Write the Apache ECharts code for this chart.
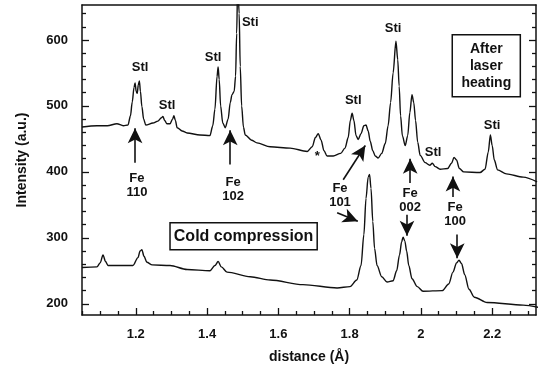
<!DOCTYPE html>
<html>
<head>
<meta charset="utf-8">
<script src="https://cdn.jsdelivr.net/npm/echarts@6/dist/echarts.min.js"></script>
<style>
html,body{margin:0;padding:0;background:#fff;}
#chart{width:541px;height:372px;}
</style>
</head>
<body>
<div id="chart"></div>
<script>
// upper pattern: after laser heating  [d (A), intensity]
var upperTrace = [
  [1.049,468],[1.091,470],[1.120,470],[1.147,473],[1.165,470],[1.178,471],[1.185,485],[1.190,506],
  [1.195,528],[1.198,535],[1.201,522],[1.204,519],[1.207,532],[1.210,538],[1.213,522],[1.217,499],
  [1.222,480],[1.228,471],[1.248,474],[1.262,477],[1.272,482],[1.276,484],[1.281,478],[1.287,473],
  [1.296,473],[1.303,480],[1.307,485],[1.311,478],[1.316,467],[1.330,462],[1.344,459],[1.380,456],
  [1.408,455],[1.416,470],[1.422,495],[1.428,545],[1.431,559],[1.434,540],[1.438,500],[1.444,474],
  [1.451,467],[1.459,480],[1.465,505],[1.470,517],[1.476,522],[1.480,545],[1.483,610],[1.486,690],
  [1.490,640],[1.493,560],[1.497,500],[1.502,468],[1.507,456],[1.525,448],[1.540,444],[1.577,438],
  [1.633,436],[1.681,431],[1.695,438],[1.704,452],[1.712,458],[1.720,448],[1.728,432],[1.737,424],
  [1.754,424],[1.775,428],[1.787,436],[1.796,452],[1.802,478],[1.807,489],[1.812,478],[1.818,455],
  [1.824,449],[1.832,458],[1.840,470],[1.846,471],[1.852,462],[1.858,446],[1.865,432],[1.872,424],
  [1.880,421],[1.890,428],[1.900,443],[1.908,470],[1.915,505],[1.922,550],[1.930,598],[1.935,570],
  [1.939,530],[1.943,485],[1.948,455],[1.956,440],[1.963,455],[1.969,490],[1.975,517],[1.980,505],
  [1.985,478],[1.991,445],[1.998,425],[2.012,414],[2.025,410],[2.032,413],[2.040,408],[2.054,404],
  [2.075,405],[2.086,413],[2.093,422],[2.100,418],[2.108,405],[2.120,400],[2.166,399],[2.180,404],
  [2.189,430],[2.195,456],[2.200,440],[2.206,418],[2.215,403],[2.240,397],[2.287,392],[2.326,385]
];
// lower pattern: cold compression
var lowerTrace = [
  [1.049,255],[1.091,256],[1.100,262],[1.108,274],[1.115,264],[1.122,258],[1.192,258],[1.206,270],
  [1.212,280],[1.217,282],[1.223,272],[1.231,263],[1.246,259],[1.296,258],[1.344,252],[1.408,250],
  [1.422,258],[1.431,264],[1.440,256],[1.456,248],[1.521,241],[1.577,236],[1.669,229],[1.765,224],
  [1.801,226],[1.820,236],[1.832,258],[1.840,305],[1.846,360],[1.852,392],[1.856,396],[1.860,375],
  [1.865,325],[1.870,284],[1.877,258],[1.890,241],[1.905,233],[1.922,235],[1.932,250],[1.940,274],
  [1.946,294],[1.950,301],[1.955,295],[1.960,280],[1.966,258],[1.975,238],[1.990,226],[2.006,219],
  [2.060,220],[2.078,230],[2.090,248],[2.100,262],[2.107,266],[2.114,261],[2.123,244],[2.135,222],
  [2.150,210],[2.186,202],[2.287,198],[2.335,194]
];

var xTicks = [1.2,1.4,1.6,1.8,2,2.2];
var xMinorTicks = [1.05,1.1,1.15,1.25,1.3,1.35,1.45,1.5,1.55,1.65,1.7,1.75,1.85,1.9,1.95,2.05,2.1,2.15,2.25,2.3];
var yTicks = [200,300,400,500,600];
var yMinorTicks = [220,240,260,280,320,340,360,380,420,440,460,480,520,540,560,580,620,640];

// peak labels [d, intensity, text]
var peakLabels = [
  [1.212,559,'Stl'],[1.288,500,'Stl'],[1.417,574,'Stl'],[1.521,626,'Sti'],
  [1.810,509,'Stl'],[1.922,618,'Sti'],[2.034,429,'Stl'],[2.200,471,'Sti'],[1.709,424,'*'],
  [1.203,380,'Fe\n110'],[1.473,373,'Fe\n102'],[1.773,364,'Fe\n101'],[1.970,357,'Fe\n002'],[2.096,336,'Fe\n100']
];
// arrows [from d, from I, to d, to I]
var arrows = [
  [1.198,414,1.198,466],[1.465,411,1.465,463],[1.782,388,1.844,440],[1.765,338,1.823,325],
  [1.970,383,1.970,420],[1.961,335,1.961,303],[2.090,362,2.090,393],[2.102,305,2.102,269]
];

var fontFam = 'Liberation Sans, Arial, sans-serif';
var xMin = 1.049, xMax = 2.323, yMin = 183, yMax = 653;

function xAx(pos, ticks, len, showLabel, showLine) {
  return {
    type:'value', position:pos, min:xMin, max:xMax,
    axisLine:{show:showLine, onZero:false, lineStyle:{color:'#111', width:1.5}},
    axisTick:{show:ticks.length>0, inside:true, length:len, customValues:ticks, lineStyle:{color:'#111', width:1.3}},
    axisLabel:{show:showLabel, customValues:xTicks, margin:13, color:'#111', fontSize:13, fontWeight:'bold', fontFamily:fontFam},
    splitLine:{show:false}
  };
}
function yAx(pos, ticks, len, showLabel, showLine) {
  return {
    type:'value', position:pos, min:yMin, max:yMax,
    axisLine:{show:showLine, onZero:false, lineStyle:{color:'#111', width:1.5}},
    axisTick:{show:true, inside:true, length:len, customValues:ticks, lineStyle:{color:'#111', width:1.3}},
    axisLabel:{show:showLabel, customValues:yTicks, margin:14, color:'#111', fontSize:13, fontWeight:'bold', fontFamily:fontFam},
    splitLine:{show:false}
  };
}

var xAxes = [xAx('bottom', xTicks, 7, true, true), xAx('bottom', xMinorTicks, 4, false, false), xAx('top', [], 0, false, true)];
xAxes[0].name = 'distance (Å)';
xAxes[0].nameLocation = 'middle';
xAxes[0].nameGap = 35;
xAxes[0].nameTextStyle = {color:'#111', fontSize:14, fontWeight:'bold', fontFamily:fontFam};
var yAxes = [yAx('left', yTicks, 7, true, true), yAx('left', yMinorTicks, 4, false, false),
             yAx('right', yTicks, 7, false, true), yAx('right', yMinorTicks, 4, false, false)];
yAxes[0].name = 'Intensity (a.u.)';
yAxes[0].nameLocation = 'middle';
yAxes[0].nameGap = 53;
yAxes[0].nameTextStyle = {color:'#111', fontSize:14, fontWeight:'bold', fontFamily:fontFam};

var labelData = peakLabels.map(function(p){
  return {coord:[p[0], p[1]], name:p[2]};
});
var arrowData = arrows.map(function(a){
  return [{coord:[a[0], a[1]]}, {coord:[a[2], a[3]]}];
});

var chart = echarts.init(document.getElementById('chart'));
var option = {
  animation:false,
  grid:{left:82, right:5, top:5, bottom:57},
  xAxis:xAxes,
  yAxis:yAxes,
  series:[{
    name:'After laser heating', type:'line', data:upperTrace, showSymbol:false,
    smooth:0.3, smoothMonotone:'x', clip:true,
    lineStyle:{color:'#111', width:1.4},
    markPoint:{
      symbol:'rect', symbolSize:1, silent:true, itemStyle:{color:'rgba(0,0,0,0)'},
      label:{show:true, position:'inside', formatter:'{b}', color:'#111', fontSize:13, fontWeight:'bold', lineHeight:14, fontFamily:fontFam},
      data:labelData
    },
    markLine:{
      silent:true, symbol:['none','arrow'], symbolSize:[11,15], label:{show:false},
      lineStyle:{color:'#111', width:1.6, type:'solid'},
      data:arrowData
    },
    markArea:{
      silent:true,
      itemStyle:{color:'#fff', borderColor:'#111', borderWidth:1.5},
      label:{show:true, position:'inside', color:'#111', fontSize:14, fontWeight:'bold', lineHeight:17, fontFamily:fontFam},
      data:[[{coord:[2.088,608], name:'After\nlaser\nheating'}, {coord:[2.279,514]}]]
    }
  },{
    name:'Cold compression', type:'line', data:lowerTrace, showSymbol:false,
    smooth:0.3, smoothMonotone:'x', clip:true,
    lineStyle:{color:'#111', width:1.4},
    markArea:{
      silent:true,
      itemStyle:{color:'#fff', borderColor:'#111', borderWidth:1.5},
      label:{show:true, position:'inside', color:'#111', fontSize:16, fontWeight:'bold', fontFamily:fontFam},
      data:[[{coord:[1.296,323], name:'Cold compression'}, {coord:[1.709,282]}]]
    }
  }]
};
chart.setOption(option);
</script>
</body>
</html>
